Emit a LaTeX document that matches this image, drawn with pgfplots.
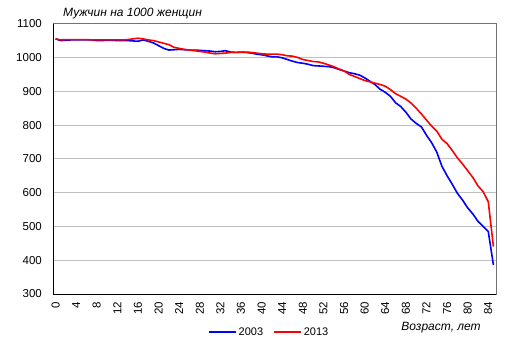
\documentclass[border=0pt]{standalone}
\usepackage{fontspec}
\setmainfont{Liberation Sans}
\usepackage{pgfplots}
\usepackage{pgfplotstable}
\pgfplotsset{compat=1.18}
\pgfplotstableread{
a b r
0 1055 1055
1 1050 1052
2 1051 1053
3 1052 1053
4 1052 1053
5 1052 1053
6 1052 1053
7 1052 1052
8 1050 1052
9 1050 1052
10 1051 1052
11 1051 1052
12 1050 1052
13 1050 1052
14 1050 1053
15 1049 1055
16 1048 1057
17 1052 1055
18 1048 1052
19 1043 1050
20 1035 1046
21 1027 1042
22 1022 1038
23 1023 1030
24 1024 1027
25 1023 1024
26 1022 1022
27 1022 1020
28 1021 1018
29 1020 1016
30 1019 1013
31 1017 1011
32 1018 1012
33 1020 1013
34 1016 1015
35 1015 1015
36 1016 1015
37 1015 1016
38 1013 1015
39 1010 1013
40 1008 1011
41 1005 1010
42 1002 1010
43 1002 1010
44 999 1008
45 994 1005
46 989 1004
47 985 1000
48 983 994
49 980 991
50 976 988
51 975 987
52 974 983
53 973 978
54 970 973
55 965 966
56 960 960
57 955 950
58 952 944
59 948 938
60 940 932
61 930 928
62 920 924
63 906 920
64 897 915
65 885 905
66 866 893
67 855 885
68 838 877
69 818 865
70 805 850
71 795 833
72 770 815
73 748 797
74 720 782
75 678 758
76 650 745
77 625 725
78 598 703
79 578 685
80 555 665
81 537 645
82 515 620
83 500 603
84 485 573
85 386 440
}\data
\begin{document}
\begin{tikzpicture}[font=\fontsize{11.5bp}{13bp}\selectfont]
\path[use as bounding box] (0,0) rectangle (513bp,355bp);
\begin{axis}[
  at={(53bp,61bp)}, anchor=south west,
  scale only axis, width=443bp, height=270.3bp,
  xmin=-0.5, xmax=85.5, ymin=300, ymax=1100,
  xtick={0,4,...,84}, ytick={300,400,...,1100},
  major tick length=0pt,
  ymajorgrids, major grid style={black!25, line width=0.8bp},
  axis line style={draw=black!55, line width=0.8bp},
  /pgf/number format/assume math mode=true,
  /pgf/number format/1000 sep={},
  tick label style={font=\fontsize{11.5bp}{13bp}\selectfont},
  x tick label style={rotate=90, anchor=east, inner sep=0pt},
  xticklabel shift=8bp,
  y tick label style={anchor=east, inner sep=0pt},
  yticklabel shift=11bp,
  legend style={draw=none, fill=none, at={(0.488,-0.1406)}, anchor=center,
    legend columns=2, font=\fontsize{11bp}{13bp}\selectfont,
    /tikz/every even column/.append style={column sep=8bp}},
  legend image code/.code={\draw[#1] (0bp,0bp) -- (27bp,0bp);},
  clip=false,
]
\addplot[color={rgb,255:red,0;green,0;blue,255}, line width=1.6bp] table[x=a,y=b] {\data};
\addplot[color={rgb,255:red,255;green,0;blue,0}, line width=1.6bp] table[x=a,y=r] {\data};
\legend{2003,2013}
\draw[black, line width=1bp] (rel axis cs:0,1) -- (rel axis cs:0,0) -- (rel axis cs:1,0);
\node[anchor=west, inner sep=0pt, font=\fontsize{12bp}{14bp}\selectfont\itshape] at (rel axis cs:0.0226,1.036) {Мужчин на 1000 женщин};
\node[anchor=center, inner sep=0pt, font=\fontsize{12bp}{14bp}\selectfont\itshape] at (rel axis cs:0.876,-0.126) {Возраст, лет};
\end{axis}
\end{tikzpicture}
\end{document}
